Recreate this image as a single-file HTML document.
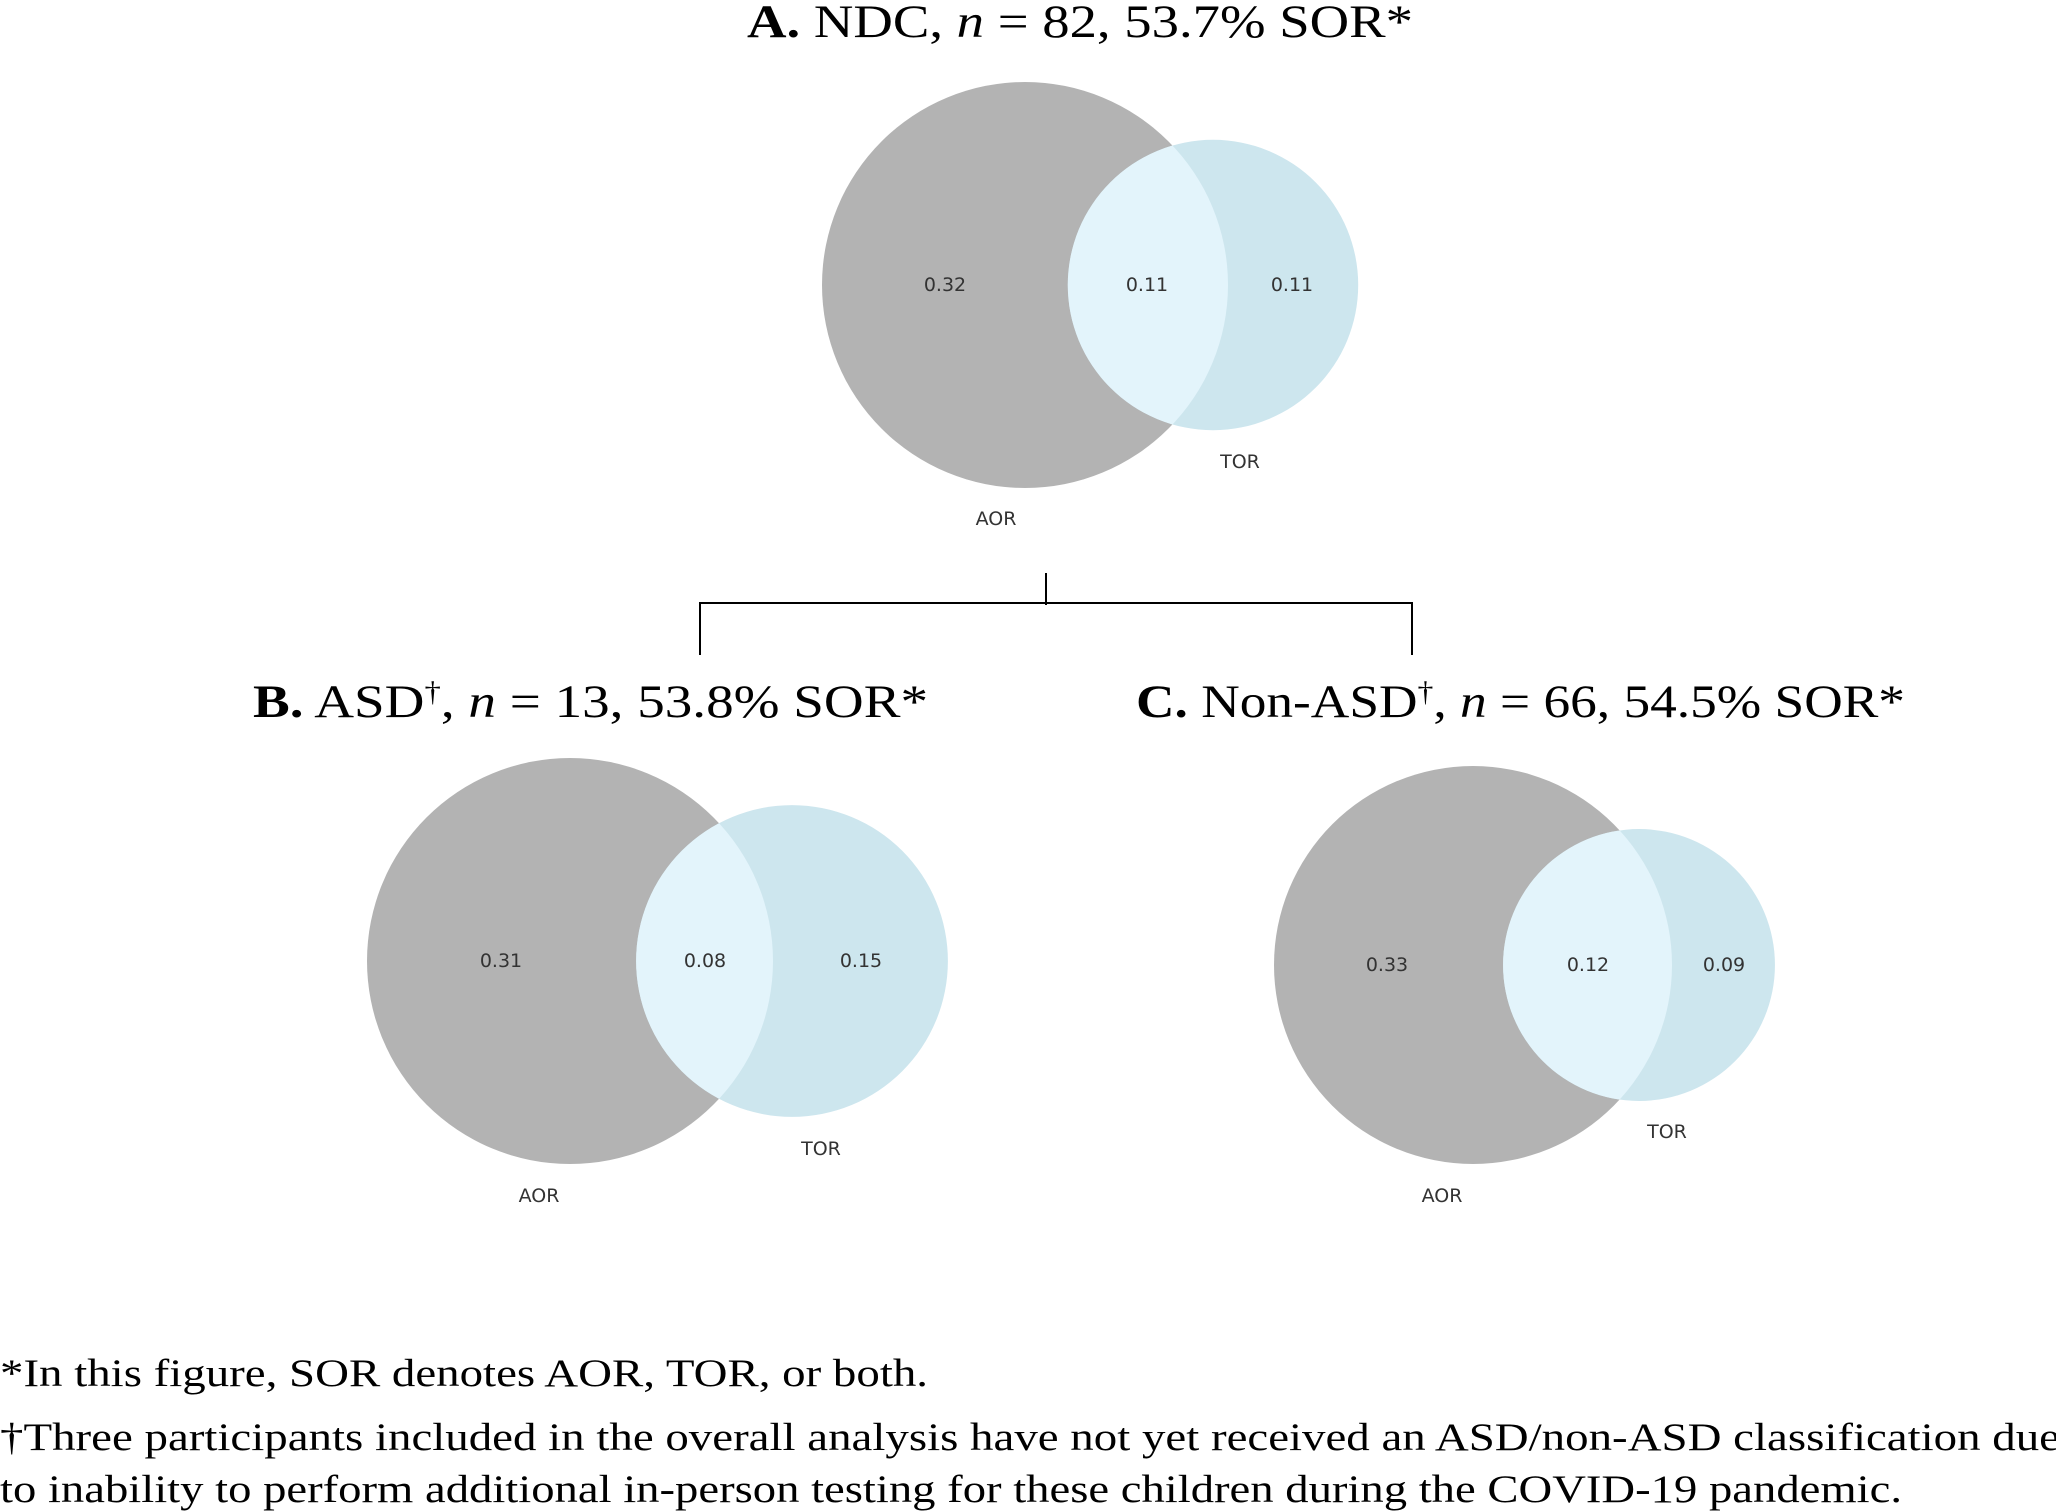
<!DOCTYPE html>
<html><head><meta charset="utf-8"><style>
html,body{margin:0;padding:0;background:#fff;}
svg{display:block;}
.serif{font-family:"Liberation Serif",serif;fill:#000;}
.lbl{font-family:"DejaVu Sans","Liberation Sans",sans-serif;font-size:19px;fill:#333;text-anchor:middle;dominant-baseline:central;}
</style></head><body>
<svg id="fig" width="2056" height="1512" viewBox="0 0 2056 1512">
<text class="serif" x="747" y="37" font-size="47" textLength="666" lengthAdjust="spacingAndGlyphs"><tspan font-weight="bold">A.</tspan>  NDC, <tspan font-style="italic">n</tspan> = 82, 53.7% SOR*</text>
<text class="serif" x="253" y="717" font-size="47" textLength="675" lengthAdjust="spacingAndGlyphs"><tspan font-weight="bold">B.</tspan>  ASD<tspan font-size="28" dy="-16">†</tspan><tspan dy="16">, </tspan><tspan font-style="italic">n</tspan> = 13, 53.8% SOR*</text>
<text class="serif" x="1136" y="717" font-size="47" textLength="769" lengthAdjust="spacingAndGlyphs"><tspan font-weight="bold">C.</tspan> Non-ASD<tspan font-size="28" dy="-16">†</tspan><tspan dy="16">, </tspan><tspan font-style="italic">n</tspan> = 66, 54.5% SOR*</text>
<g stroke="#000" stroke-width="2" fill="none">
<line x1="1046" y1="573" x2="1046" y2="605"/>
<polyline points="700,655 700,603 1412,603 1412,655"/>
</g>
<g id="venns"></g>
<text class="serif" x="0" y="1386" font-size="39" textLength="928" lengthAdjust="spacingAndGlyphs">*In this figure, SOR denotes AOR, TOR, or both.</text>
<text class="serif" x="0" y="1450" font-size="39" textLength="2060" lengthAdjust="spacingAndGlyphs">†Three participants included in the overall analysis have not yet received an ASD/non-ASD classification due</text>
<text class="serif" x="0" y="1502" font-size="39" textLength="1902" lengthAdjust="spacingAndGlyphs">to inability to perform additional in-person testing for these children during the COVID-19 pandemic.</text>
</svg>
<script>
// Venn data: proportions [AOR only, both, TOR only]
const panels = ["A", "B", "C"];
const aorOnly = [0.32, 0.31, 0.33];
const both = [0.11, 0.08, 0.12];
const torOnly = [0.11, 0.15, 0.09];
// layout (not data)
const layout = [
  {cx:1025, cy:285, rA:203, dx:188, torLbl:[1240,462], aorLbl:[996,519], lx:[945,1147,1292]},
  {cx:570, cy:961, rA:203, dx:222, torLbl:[821,1149], aorLbl:[539,1196], lx:[501,705,861]},
  {cx:1473, cy:965, rA:199, dx:166, torLbl:[1667,1132], aorLbl:[1442,1196], lx:[1387,1588,1724]}
];
const NS = "http://www.w3.org/2000/svg";
const root = document.getElementById('venns');
function mk(tag, attrs, parent){const e=document.createElementNS(NS,tag);for(const k in attrs)e.setAttribute(k,attrs[k]);parent.appendChild(e);return e;}
panels.forEach((p,i)=>{
  const L = layout[i];
  const aTot = aorOnly[i]+both[i], tTot = torOnly[i]+both[i];
  const rT = L.rA*Math.sqrt(tTot/aTot);
  const g = mk('g',{},root);
  
  
  const tx = L.cx + L.dx;
  const a = mk('circle',{cx:L.cx,cy:L.cy,r:L.rA,fill:'#b3b3b3'},g);
  
  
  const t = mk('circle',{cx:tx,cy:L.cy,r:rT,fill:'#cde6ee'},g);
  
  
  const cp = mk('clipPath',{id:'clip'+p},g);
  mk('circle',{cx:L.cx,cy:L.cy,r:L.rA},cp);
  const ov = mk('circle',{cx:tx,cy:L.cy,r:rT,fill:'#e3f4fb','clip-path':'url(#clip'+p+')'},g);
  
  
  const vals=[aorOnly[i],both[i],torOnly[i]], names=['aor-only-value','overlap-value','tor-only-value'];
  vals.forEach((v,j)=>{
    const tt = mk('text',{x:L.lx[j],y:L.cy,'class':'lbl'},g);
    tt.textContent = v.toFixed(2);
    
    
  });
  const tl = mk('text',{x:L.torLbl[0],y:L.torLbl[1],'class':'lbl','font-size':'22'},g);
  tl.textContent='TOR';
  
  
  const al = mk('text',{x:L.aorLbl[0],y:L.aorLbl[1],'class':'lbl','font-size':'22'},g);
  al.textContent='AOR';
  
  
});
</script>
</body></html>
